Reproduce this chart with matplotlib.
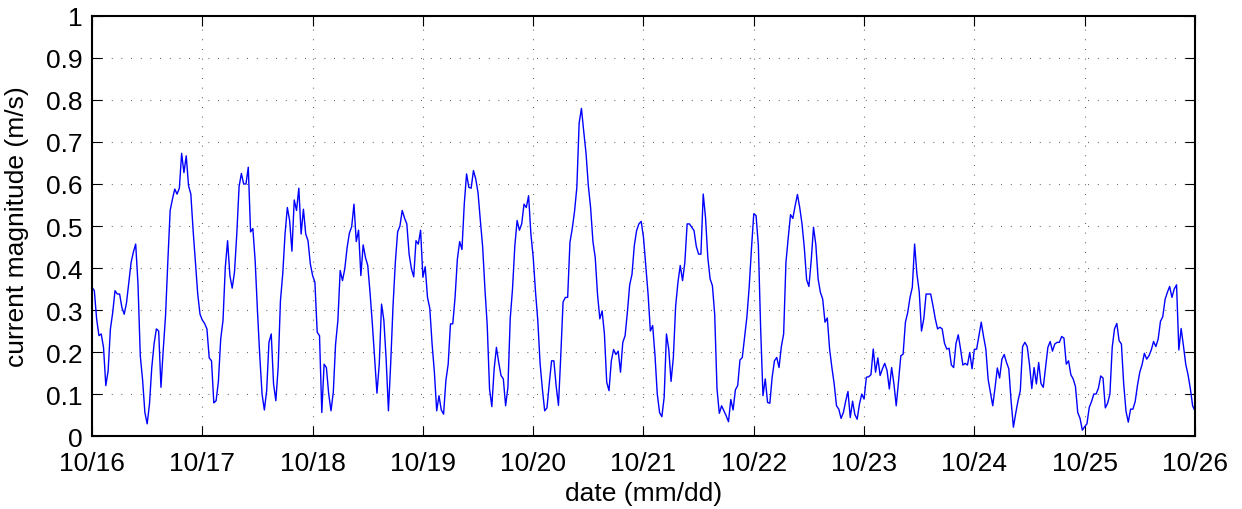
import numpy as np
import matplotlib
matplotlib.use("Agg")
import matplotlib.pyplot as plt

# half-hourly current magnitude (m/s), starting 10/16 00:00, one list per day
day_1016 = [0.354, 0.346, 0.279, 0.239, 0.243, 0.211, 0.12, 0.155, 0.255, 0.294, 0.346, 0.338,
            0.338, 0.306, 0.29, 0.317, 0.366, 0.413, 0.438, 0.457, 0.362, 0.191, 0.134, 0.056,
            0.029, 0.076, 0.163, 0.219, 0.255, 0.25, 0.116, 0.206, 0.287, 0.417, 0.537, 0.564,
            0.588, 0.576, 0.59, 0.673, 0.627, 0.667, 0.596, 0.576, 0.489, 0.413, 0.338, 0.29]
day_1017 = [0.276, 0.268, 0.255, 0.186, 0.179, 0.079, 0.084, 0.13, 0.231, 0.275, 0.402, 0.465,
            0.382, 0.352, 0.39, 0.481, 0.594, 0.625, 0.6, 0.6, 0.64, 0.486, 0.494, 0.417,
            0.298, 0.191, 0.1, 0.062, 0.108, 0.223, 0.243, 0.124, 0.084, 0.163, 0.322, 0.386,
            0.481, 0.544, 0.513, 0.44, 0.562, 0.537, 0.59, 0.481, 0.54, 0.481, 0.465, 0.41]
day_1018 = [0.382, 0.366, 0.247, 0.239, 0.056, 0.171, 0.163, 0.1, 0.06, 0.104, 0.219, 0.275,
            0.394, 0.37, 0.398, 0.448, 0.483, 0.498, 0.552, 0.463, 0.49, 0.382, 0.455, 0.425,
            0.406, 0.341, 0.267, 0.183, 0.102, 0.171, 0.314, 0.276, 0.183, 0.06, 0.175, 0.31,
            0.413, 0.486, 0.5, 0.537, 0.519, 0.505, 0.433, 0.398, 0.379, 0.465, 0.457, 0.49]
day_1019 = [0.378, 0.403, 0.33, 0.304, 0.219, 0.152, 0.06, 0.096, 0.062, 0.052, 0.132, 0.171,
            0.267, 0.267, 0.33, 0.421, 0.463, 0.444, 0.552, 0.624, 0.592, 0.59, 0.632, 0.612,
            0.579, 0.513, 0.451, 0.35, 0.263, 0.112, 0.07, 0.159, 0.211, 0.175, 0.144, 0.136,
            0.072, 0.116, 0.279, 0.35, 0.452, 0.513, 0.49, 0.505, 0.552, 0.544, 0.572, 0.481]
day_1020 = [0.426, 0.344, 0.275, 0.173, 0.112, 0.06, 0.067, 0.125, 0.179, 0.179, 0.119, 0.073,
            0.191, 0.319, 0.33, 0.33, 0.461, 0.494, 0.535, 0.592, 0.745, 0.78, 0.725, 0.673,
            0.596, 0.543, 0.463, 0.425, 0.337, 0.279, 0.298, 0.243, 0.128, 0.108, 0.179, 0.206,
            0.194, 0.202, 0.152, 0.223, 0.239, 0.295, 0.36, 0.385, 0.453, 0.489, 0.505, 0.511]
day_1021 = [0.473, 0.407, 0.338, 0.25, 0.263, 0.193, 0.1, 0.056, 0.046, 0.092, 0.243, 0.206,
            0.13, 0.187, 0.309, 0.366, 0.406, 0.37, 0.413, 0.505, 0.505, 0.497, 0.489, 0.451,
            0.433, 0.433, 0.576, 0.52, 0.425, 0.374, 0.358, 0.289, 0.112, 0.054, 0.072, 0.06,
            0.048, 0.034, 0.087, 0.062, 0.11, 0.12, 0.181, 0.187, 0.235, 0.283, 0.354, 0.446]
day_1022 = [0.529, 0.525, 0.453, 0.255, 0.096, 0.136, 0.08, 0.078, 0.14, 0.179, 0.187, 0.163,
            0.213, 0.243, 0.413, 0.472, 0.527, 0.518, 0.548, 0.575, 0.544, 0.505, 0.448, 0.372,
            0.356, 0.418, 0.497, 0.456, 0.374, 0.342, 0.326, 0.271, 0.281, 0.207, 0.163, 0.124,
            0.072, 0.064, 0.042, 0.056, 0.083, 0.106, 0.044, 0.083, 0.051, 0.04, 0.076, 0.1]
day_1023 = [0.088, 0.14, 0.141, 0.146, 0.207, 0.152, 0.186, 0.144, 0.16, 0.173, 0.156, 0.112,
            0.163, 0.124, 0.072, 0.13, 0.191, 0.195, 0.271, 0.294, 0.33, 0.354, 0.457, 0.386,
            0.344, 0.25, 0.279, 0.338, 0.338, 0.338, 0.31, 0.279, 0.255, 0.259, 0.255, 0.221,
            0.207, 0.209, 0.169, 0.163, 0.22, 0.241, 0.207, 0.169, 0.173, 0.169, 0.199, 0.16]
day_1024 = [0.206, 0.207, 0.239, 0.271, 0.237, 0.207, 0.135, 0.104, 0.072, 0.115, 0.162, 0.138,
            0.183, 0.194, 0.175, 0.16, 0.083, 0.021, 0.054, 0.084, 0.108, 0.213, 0.223, 0.213,
            0.17, 0.113, 0.163, 0.124, 0.175, 0.125, 0.116, 0.163, 0.211, 0.225, 0.202, 0.219,
            0.223, 0.223, 0.237, 0.233, 0.171, 0.179, 0.146, 0.136, 0.118, 0.056, 0.042, 0.014]
day_1025 = [0.022, 0.029, 0.068, 0.082, 0.1, 0.1, 0.114, 0.143, 0.138, 0.067, 0.078, 0.1,
            0.211, 0.255, 0.268, 0.227, 0.219, 0.124, 0.059, 0.033, 0.064, 0.064, 0.082, 0.121,
            0.152, 0.17, 0.197, 0.183, 0.191, 0.205, 0.225, 0.213, 0.231, 0.273, 0.284, 0.325,
            0.342, 0.356, 0.33, 0.35, 0.36, 0.205, 0.256, 0.215, 0.171, 0.146, 0.113, 0.072,
            0.06]

day_labels = ["10/16", "10/17", "10/18", "10/19", "10/20", "10/21",
              "10/22", "10/23", "10/24", "10/25", "10/26"]

speed = np.array(day_1016 + day_1017 + day_1018 + day_1019 + day_1020 +
                 day_1021 + day_1022 + day_1023 + day_1024 + day_1025)
t = np.arange(len(speed)) * 0.5 / 24.0  # days since 10/16

plt.rcParams['font.family'] = ['Liberation Sans', 'DejaVu Sans']

fig = plt.figure(figsize=(12.42, 5.10), dpi=100)
ax = fig.add_axes([0.0741, 0.1431, 0.8880, 0.8236])

ax.plot(t, speed, color=(0, 0, 1), linewidth=1.0)

ax.set_xlim(0, 10)
ax.set_ylim(0, 1)
ax.set_xticks(np.arange(len(day_labels)))
ax.set_xticklabels(day_labels)
ax.set_yticks(np.arange(0, 1.01, 0.1))
ax.set_yticklabels(["0", "0.1", "0.2", "0.3", "0.4", "0.5", "0.6", "0.7", "0.8", "0.9", "1"])

ax.grid(True, color='#404040', linestyle=(0, (0.7, 8)), linewidth=0.8)
ax.tick_params(direction='in', length=7, width=0.8, labelsize=19,
               top=True, right=True)
ax.tick_params(axis='x', pad=11)
ax.tick_params(axis='y', pad=7)
for s in ax.spines.values():
    s.set_linewidth(1.5)

ax.set_xlabel('date (mm/dd)', fontsize=19, labelpad=4)
ax.set_ylabel('current magnitude (m/s)', fontsize=19, labelpad=12)

fig.savefig('out.png', dpi=100)
